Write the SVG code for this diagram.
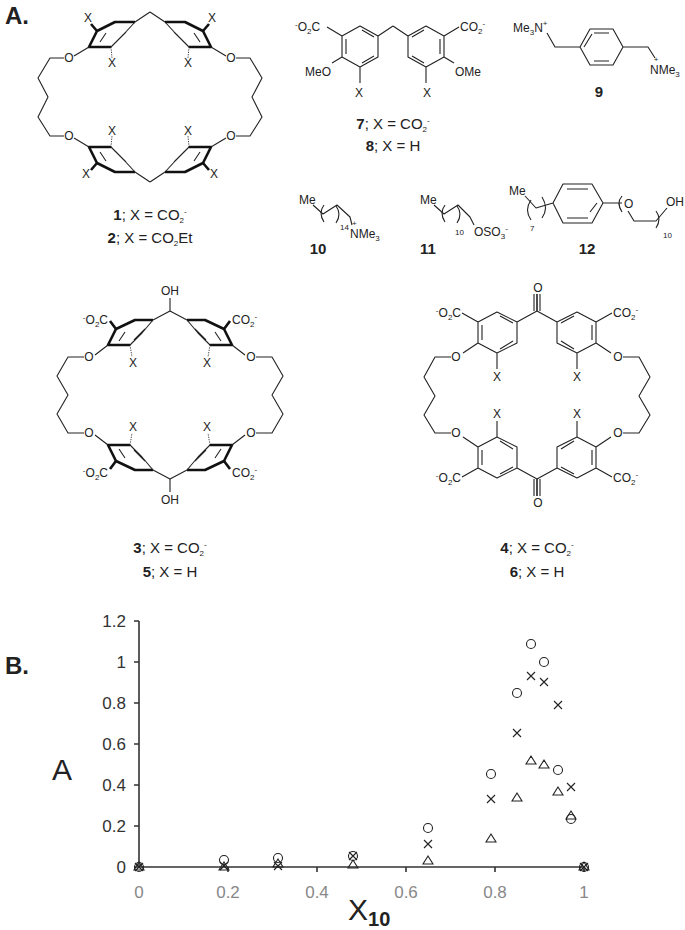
<svg xmlns="http://www.w3.org/2000/svg" width="685" height="930" viewBox="0 0 685 930">
<style>
.b{stroke:#222;stroke-width:1.1;fill:none;stroke-linejoin:round}
.k{stroke:#111;stroke-width:2.6;fill:none;stroke-linejoin:round}
.h{stroke:#222;stroke-width:0.9;stroke-dasharray:1.2 1.2;fill:none}
text{font-family:"Liberation Sans",Arial,sans-serif;fill:#222}
.a{font-size:12px}
.l{font-size:15px}
.sb{font-size:8px}
.n{font-weight:bold}
.ax{stroke:#333;stroke-width:1.6;fill:none}
.tk{font-size:17px;fill:#888;text-anchor:middle}
.tky{font-size:17px;fill:#333;text-anchor:end}
.m{stroke:#222;stroke-width:1.1;fill:none}
</style>
<defs>
<g id="r1">
<path class="k" d="M135,22 L115,22 L97,31 L89,47 L111,47"/>
<path class="b" d="M111,47 L123,35 L135,22 M150,12 L135,22 M116,42 L126,32 M100,42 L106,33 M89,47 L74,56"/>
<path class="k" d="M97,31 L91,24" stroke-width="3"/>
<path class="h" d="M111,47 L112,58" stroke-width="3"/>
</g>
<g id="r3">
<path class="k" d="M153,320 L135,320 L116,329 L108,345 L130,345"/>
<path class="b" d="M130,345 L142,333 L153,320 L170,311 M134,340 L145,329 M119,341 L125,332 M108,345 L95,355"/>
<path class="k" d="M116,329 L110,321" stroke-width="3"/>
<path class="h" d="M130,345 L132,357" stroke-width="3"/>
</g>
<g id="r4">
<path class="b" d="M517,322 L497,312 L478,322 L478,343 L497,353 L517,343 Z M537,311 L517,322 M478,322 L462,313 M478,343 L463,353 M497,353 L497,369 M500,316 L513,323 M482,325 L482,340 M500,349 L513,341 M537,311 L537,294 M540,311 L540,294"/>
</g>
<g id="r7">
<path class="b" d="M360,26 L378,36 L378,57 L360,67 L342,57 L342,36 Z M378,36 L393,26 M342,36 L327,27 M342,57 L332,63 M360,67 L360,83 M362,30 L374,37 M346,39 L346,54 M362,63 L374,56"/>
</g>
</defs>

<text x="5" y="24" font-size="24" class="n">A.</text>
<text x="5" y="674" font-size="24" class="n">B.</text>

<g id="c1">
<use href="#r1"/>
<use href="#r1" transform="translate(300,0) scale(-1,1)"/>
<use href="#r1" transform="translate(0,194) scale(1,-1)"/>
<use href="#r1" transform="translate(300,194) scale(-1,-1)"/>
<path class="b" d="M64,58 L50,58 L38,78 L48,97 L38,117 L50,136 L64,136 M236,58 L250,58 L262,78 L252,97 L262,117 L250,136 L236,136"/>
<text class="a" x="69" y="62" text-anchor="middle">O</text>
<text class="a" x="69" y="140" text-anchor="middle">O</text>
<text class="a" x="231" y="62" text-anchor="middle">O</text>
<text class="a" x="231" y="140" text-anchor="middle">O</text>
<text class="a" x="88" y="22" text-anchor="middle">X</text>
<text class="a" x="212" y="22" text-anchor="middle">X</text>
<text class="a" x="112" y="67" text-anchor="middle">X</text>
<text class="a" x="188" y="67" text-anchor="middle">X</text>
<text class="a" x="112" y="135" text-anchor="middle">X</text>
<text class="a" x="188" y="135" text-anchor="middle">X</text>
<text class="a" x="86" y="178" text-anchor="middle">X</text>
<text class="a" x="214" y="178" text-anchor="middle">X</text>
<text class="l" x="150" y="220" text-anchor="middle"><tspan class="n">1</tspan>; X = CO<tspan class="sb" dy="3">2</tspan><tspan class="sb" dy="-9">-</tspan></text>
<text class="l" x="150" y="243" text-anchor="middle"><tspan class="n">2</tspan>; X = CO<tspan class="sb" dy="3">2</tspan><tspan dy="-3">Et</tspan></text>
</g>

<g id="c7">
<use href="#r7"/>
<use href="#r7" transform="translate(786,0) scale(-1,1)"/>
<text class="a" x="295" y="31"><tspan class="sb" dy="-4">-</tspan><tspan dy="4">O</tspan><tspan class="sb" dy="3">2</tspan><tspan dy="-3">C</tspan></text>
<text class="a" x="460" y="31">CO<tspan class="sb" dy="3">2</tspan><tspan class="sb" dy="-8">-</tspan></text>
<text class="a" x="331" y="76" text-anchor="end">MeO</text>
<text class="a" x="455" y="76">OMe</text>
<text class="a" x="359" y="97" text-anchor="middle">X</text>
<text class="a" x="427" y="97" text-anchor="middle">X</text>
<text class="l" x="393" y="129" text-anchor="middle"><tspan class="n">7</tspan>; X = CO<tspan class="sb" dy="3">2</tspan><tspan class="sb" dy="-9">-</tspan></text>
<text class="l" x="393" y="151" text-anchor="middle"><tspan class="n">8</tspan>; X = H</text>
</g>

<g id="c9">
<path class="b" d="M580,47 L590,29 L613,29 L623,47 L613,65 L590,65 Z M547,33 L555,47 L580,47 M623,47 L648,47 L655,58 M594,33 L609,33 M609,61 L594,61 M584,47 L592,34"/>
<text class="a" x="513" y="32">Me<tspan class="sb" dy="3">3</tspan><tspan dy="-3">N</tspan><tspan class="sb" dy="-6">+</tspan></text>
<text class="sb" x="656" y="62" text-anchor="middle">+</text>
<text class="a" x="650" y="74">NMe<tspan class="sb" dy="3">3</tspan></text>
<text class="l n" x="599" y="97" text-anchor="middle">9</text>
</g>

<g id="c10">
<path class="b" d="M313,205 L323,214 L337,205 L350,217 L352,225"/>
<path class="b" d="M324,205 Q318,213 324,222 M336,206 Q342,214 336,223"/>
<text class="a" x="299" y="204">Me</text>
<text class="sb" x="340" y="230">14</text>
<text class="sb" x="352" y="226">+</text>
<text class="a" x="350" y="238">NMe<tspan class="sb" dy="3">3</tspan></text>
<text class="l n" x="318" y="254" text-anchor="middle">10</text>
</g>

<g id="c11">
<path class="b" d="M434,205 L444,214 L458,205 L470,217 L474,225"/>
<path class="b" d="M445,205 Q439,213 445,222 M457,206 Q463,214 457,223"/>
<text class="a" x="420" y="204">Me</text>
<text class="sb" x="455" y="235">10</text>
<text class="a" x="474" y="236">OSO<tspan class="sb" dy="3">3</tspan><tspan class="sb" dy="-8">-</tspan></text>
<text class="l n" x="428" y="254" text-anchor="middle">11</text>
</g>

<g id="c12">
<path class="b" d="M553,203 L563,184 L592,184 L603,203 L592,223 L563,223 Z M525,196 L536,208 L553,203 M567,189 L588,189 M588,218 L567,218 M597,203 L590,212 M603,203 L622,203 M628,211 L634,221 L656,221 L667,208"/>
<path class="b" d="M531,200 Q524,210 531,220 M542,197 Q549,208 542,218 M622,196 Q616,203 622,212 M656,211 Q662,219 656,228"/>
<text class="a" x="509" y="195">Me</text>
<text class="sb" x="530" y="231">7</text>
<text class="a" x="624" y="208">O</text>
<text class="a" x="666" y="206">OH</text>
<text class="sb" x="663" y="238">10</text>
<text class="l n" x="587" y="254" text-anchor="middle">12</text>
</g>

<g id="c3">
<use href="#r3"/>
<use href="#r3" transform="translate(340,0) scale(-1,1)"/>
<use href="#r3" transform="translate(0,790) scale(1,-1)"/>
<use href="#r3" transform="translate(340,790) scale(-1,-1)"/>
<path class="b" d="M170,311 L170,298 M170,479 L170,492 M84,357 L68,357 L57,376 L68,395 L57,414 L68,433 L84,433 M256,357 L272,357 L283,376 L272,395 L283,414 L272,433 L256,433"/>
<text class="a" x="170" y="295" text-anchor="middle">OH</text>
<text class="a" x="170" y="504" text-anchor="middle">OH</text>
<text class="a" x="89" y="361" text-anchor="middle">O</text>
<text class="a" x="89" y="437" text-anchor="middle">O</text>
<text class="a" x="251" y="361" text-anchor="middle">O</text>
<text class="a" x="251" y="437" text-anchor="middle">O</text>
<text class="a" x="133" y="367" text-anchor="middle">X</text>
<text class="a" x="207" y="367" text-anchor="middle">X</text>
<text class="a" x="133" y="431" text-anchor="middle">X</text>
<text class="a" x="207" y="431" text-anchor="middle">X</text>
<text class="a" x="108" y="324" text-anchor="end"><tspan class="sb" dy="-4">-</tspan><tspan dy="4">O</tspan><tspan class="sb" dy="3">2</tspan><tspan dy="-3">C</tspan></text>
<text class="a" x="232" y="324">CO<tspan class="sb" dy="3">2</tspan><tspan class="sb" dy="-8">-</tspan></text>
<text class="a" x="108" y="477" text-anchor="end"><tspan class="sb" dy="-4">-</tspan><tspan dy="4">O</tspan><tspan class="sb" dy="3">2</tspan><tspan dy="-3">C</tspan></text>
<text class="a" x="232" y="477">CO<tspan class="sb" dy="3">2</tspan><tspan class="sb" dy="-8">-</tspan></text>
<text class="l" x="170" y="553" text-anchor="middle"><tspan class="n">3</tspan>; X = CO<tspan class="sb" dy="3">2</tspan><tspan class="sb" dy="-9">-</tspan></text>
<text class="l" x="170" y="577" text-anchor="middle"><tspan class="n">5</tspan>; X = H</text>
</g>

<g id="c4">
<use href="#r4"/>
<use href="#r4" transform="translate(1074,0) scale(-1,1)"/>
<use href="#r4" transform="translate(0,790) scale(1,-1)"/>
<use href="#r4" transform="translate(1074,790) scale(-1,-1)"/>
<path class="b" d="M451,357 L435,357 L424,377 L435,396 L424,415 L435,433 L451,433 M623,357 L639,357 L650,377 L639,396 L650,415 L639,433 L623,433"/>
<text class="a" x="538" y="292" text-anchor="middle">O</text>
<text class="a" x="538" y="507" text-anchor="middle">O</text>
<text class="a" x="456" y="361" text-anchor="middle">O</text>
<text class="a" x="456" y="437" text-anchor="middle">O</text>
<text class="a" x="618" y="361" text-anchor="middle">O</text>
<text class="a" x="618" y="437" text-anchor="middle">O</text>
<text class="a" x="497" y="381" text-anchor="middle">X</text>
<text class="a" x="577" y="381" text-anchor="middle">X</text>
<text class="a" x="497" y="418" text-anchor="middle">X</text>
<text class="a" x="577" y="418" text-anchor="middle">X</text>
<text class="a" x="461" y="317" text-anchor="end"><tspan class="sb" dy="-4">-</tspan><tspan dy="4">O</tspan><tspan class="sb" dy="3">2</tspan><tspan dy="-3">C</tspan></text>
<text class="a" x="613" y="317">CO<tspan class="sb" dy="3">2</tspan><tspan class="sb" dy="-8">-</tspan></text>
<text class="a" x="461" y="482" text-anchor="end"><tspan class="sb" dy="-4">-</tspan><tspan dy="4">O</tspan><tspan class="sb" dy="3">2</tspan><tspan dy="-3">C</tspan></text>
<text class="a" x="613" y="482">CO<tspan class="sb" dy="3">2</tspan><tspan class="sb" dy="-8">-</tspan></text>
<text class="l" x="537" y="553" text-anchor="middle"><tspan class="n">4</tspan>; X = CO<tspan class="sb" dy="3">2</tspan><tspan class="sb" dy="-9">-</tspan></text>
<text class="l" x="537" y="577" text-anchor="middle"><tspan class="n">6</tspan>; X = H</text>
</g>

<g id="chart">
<path class="ax" d="M139,621 L139,867 L584,867 M134,621 L139,621 M134,662 L139,662 M134,703 L139,703 M134,744 L139,744 M134,785 L139,785 M134,826 L139,826 M134,867 L139,867 M228,867 L228,872 M317,867 L317,872 M406,867 L406,872 M495,867 L495,872 M584,867 L584,872"/>
<text class="tky" x="126" y="627">1.2</text>
<text class="tky" x="126" y="668">1</text>
<text class="tky" x="126" y="709">0.8</text>
<text class="tky" x="126" y="750">0.6</text>
<text class="tky" x="126" y="791">0.4</text>
<text class="tky" x="126" y="832">0.2</text>
<text class="tky" x="126" y="873">0</text>
<text class="tk" x="139" y="898">0</text>
<text class="tk" x="228" y="898">0.2</text>
<text class="tk" x="317" y="898">0.4</text>
<text class="tk" x="406" y="898">0.6</text>
<text class="tk" x="495" y="898">0.8</text>
<text class="tk" x="584" y="898">1</text>
<text x="52" y="780" font-size="30" fill="#333">A</text>
<text x="348" y="920" font-size="30" fill="#333">X<tspan font-size="20" font-weight="bold" dy="6">10</tspan></text>
<g class="m">
<circle cx="139" cy="867" r="4.5"/><circle cx="224" cy="860" r="4.5"/><circle cx="278" cy="858" r="4.5"/><circle cx="353" cy="856" r="4.5"/><circle cx="428" cy="828" r="4.5"/><circle cx="491" cy="774" r="4.5"/><circle cx="517" cy="693" r="4.5"/><circle cx="531" cy="644" r="4.5"/><circle cx="544" cy="662" r="4.5"/><circle cx="558" cy="770" r="4.5"/><circle cx="571" cy="819" r="4.5"/><circle cx="584" cy="867" r="4.5"/>
<path d="M135,863l8,8m0,-8l-8,8 M220,862l8,8m0,-8l-8,8 M274,862l8,8m0,-8l-8,8 M349,852l8,8m0,-8l-8,8 M424,840l8,8m0,-8l-8,8 M487,795l8,8m0,-8l-8,8 M513,729l8,8m0,-8l-8,8 M527,672l8,8m0,-8l-8,8 M540,678l8,8m0,-8l-8,8 M554,701l8,8m0,-8l-8,8 M567,783l8,8m0,-8l-8,8 M580,863l8,8m0,-8l-8,8"/>
<path d="M139,862l5,8h-10z M224,862l5,8h-10z M278,859l5,8h-10z M353,860l5,8h-10z M428,856l5,8h-10z M491,834l5,8h-10z M517,793l5,8h-10z M531,756l5,8h-10z M544,760l5,8h-10z M558,787l5,8h-10z M571,811l5,8h-10z M584,862l5,8h-10z"/>
</g>
</g>
</svg>
